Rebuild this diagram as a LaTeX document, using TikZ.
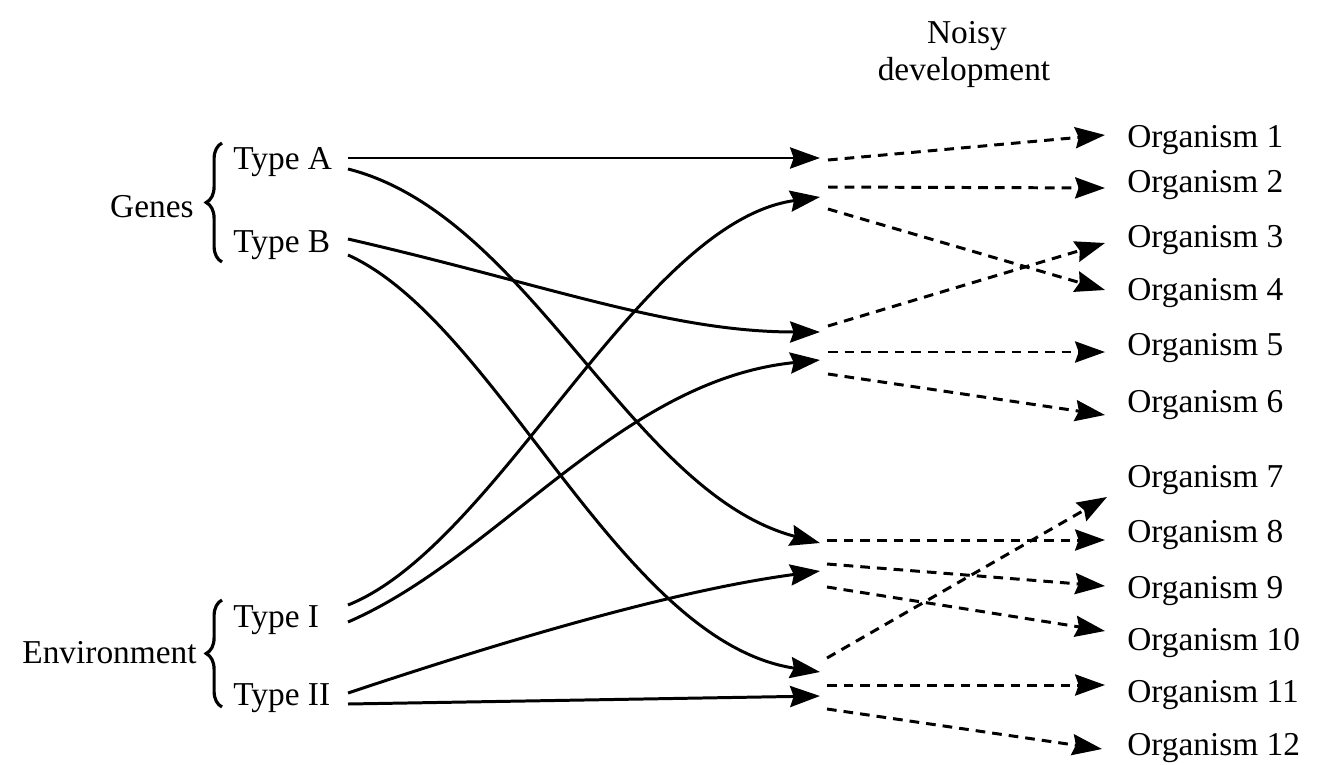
\documentclass[tikz,border=0pt]{standalone}
\usepackage{fontspec}
\setmainfont{Liberation Serif}
\usetikzlibrary{arrows.meta,decorations.pathreplacing}
\begin{document}
\begin{tikzpicture}[x=0.02cm,y=-0.02cm,
  lbl/.style={font=\fontsize{19}{23}\selectfont, inner sep=0pt, anchor=base west},
  link/.style={line width=1.7pt, -{Stealth[length=17pt,width=12pt,inset=2pt]}},
  noisy/.style={link, dash pattern=on 5.5pt off 4pt},
  curly/.style={line width=1.8pt, decorate, decoration={brace, amplitude=9pt}}]
\useasboundingbox (0,0) rectangle (1318,764);

% column headings and group labels
\node[lbl, anchor=base] (noisy) at (967,43) {Noisy};
\node[lbl, anchor=base] (devel) at (964,80) {development};
\node[lbl, anchor=base east] (genes) at (194,217) {Genes};
\node[lbl, anchor=base east] (env) at (197,663) {Environment};
\draw[curly] (222,262) -- (222,143);
\draw[curly] (222,707) -- (222,600);

% sources
\node[lbl] (ta)  at (233,169) {Type A};
\node[lbl] (tb)  at (233,252) {Type B};
\node[lbl] (ti)  at (233,627) {Type I};
\node[lbl] (tii) at (233,705) {Type II};
\coordinate (a1)  at (348,158);
\coordinate (a2)  at (348,169);
\coordinate (b1)  at (348,239);
\coordinate (b2)  at (348,255);
\coordinate (i1)  at (348,605);
\coordinate (i2)  at (348,622);
\coordinate (ii1) at (348,693);
\coordinate (ii2) at (348,704);

% genotype-environment combinations
\coordinate (h1) at (820,158);
\coordinate (h2) at (820,197);
\coordinate (h3) at (820,332);
\coordinate (h4) at (820,360);
\coordinate (h5) at (820,543);
\coordinate (h6) at (820,571);
\coordinate (h7) at (820,672);
\coordinate (h8) at (820,696);

% outcomes
\node[lbl] (o1)  at (1127,147) {Organism 1};
\node[lbl] (o2)  at (1127,192) {Organism 2};
\node[lbl] (o3)  at (1127,247) {Organism 3};
\node[lbl] (o4)  at (1127,300) {Organism 4};
\node[lbl] (o5)  at (1127,355) {Organism 5};
\node[lbl] (o6)  at (1127,412) {Organism 6};
\node[lbl] (o7)  at (1127,487) {Organism 7};
\node[lbl] (o8)  at (1127,542) {Organism 8};
\node[lbl] (o9)  at (1127,598) {Organism 9};
\node[lbl] (o10) at (1127,650) {Organism 10};
\node[lbl] (o11) at (1127,702) {Organism 11};
\node[lbl] (o12) at (1127,755) {Organism 12};
\coordinate (t1)  at (1105,135);
\coordinate (t2)  at (1105,188);
\coordinate (t3)  at (1105,243);
\coordinate (t4)  at (1105,290);
\coordinate (t5)  at (1105,352);
\coordinate (t6)  at (1105,415);
\coordinate (t7)  at (1107,497);
\coordinate (t8)  at (1105,540);
\coordinate (t9)  at (1105,586);
\coordinate (t10) at (1105,631);
\coordinate (t11) at (1105,685);
\coordinate (t12) at (1102,749);

% starting points of the noisy development arrows
\coordinate (s1)  at (828,160);
\coordinate (s2a) at (828,187);
\coordinate (s2b) at (828,209);
\coordinate (s3)  at (828,326);
\coordinate (s4a) at (828,352);
\coordinate (s4b) at (828,374);
\coordinate (s5)  at (827,540);
\coordinate (s6a) at (827,564);
\coordinate (s6b) at (827,587);
\coordinate (s7)  at (827,658);
\coordinate (s8a) at (827,685);
\coordinate (s8b) at (827,709);

% genes and environment meet
\draw[link] (a1) -- (h1);
\draw[link] (a2) .. controls (530,215) and (630,493) .. (h5);
\draw[link] (b1) .. controls (548,285) and (670,332) .. (h3);
\draw[link] (b2) .. controls (498,323) and (620,642) .. (h7);
\draw[link] (i1) .. controls (498,545) and (640,222) .. (h2);
\draw[link] (i2) .. controls (498,557) and (620,380) .. (h4);
\draw[link] (ii1) .. controls (498,643) and (670,591) .. (h6);
\draw[link] (ii2) -- (h8);

% noisy development
\draw[noisy] (s1)  -- (t1);
\draw[noisy] (s2a) -- (t2);
\draw[noisy] (s2b) -- (t4);
\draw[noisy] (s3)  -- (t3);
\draw[noisy] (s4a) -- (t5);
\draw[noisy] (s4b) -- (t6);
\draw[noisy] (s5)  -- (t8);
\draw[noisy] (s6a) -- (t9);
\draw[noisy] (s6b) -- (t10);
\draw[noisy] (s7)  -- (t7);
\draw[noisy] (s8a) -- (t11);
\draw[noisy] (s8b) -- (t12);
\end{tikzpicture}
\end{document}
